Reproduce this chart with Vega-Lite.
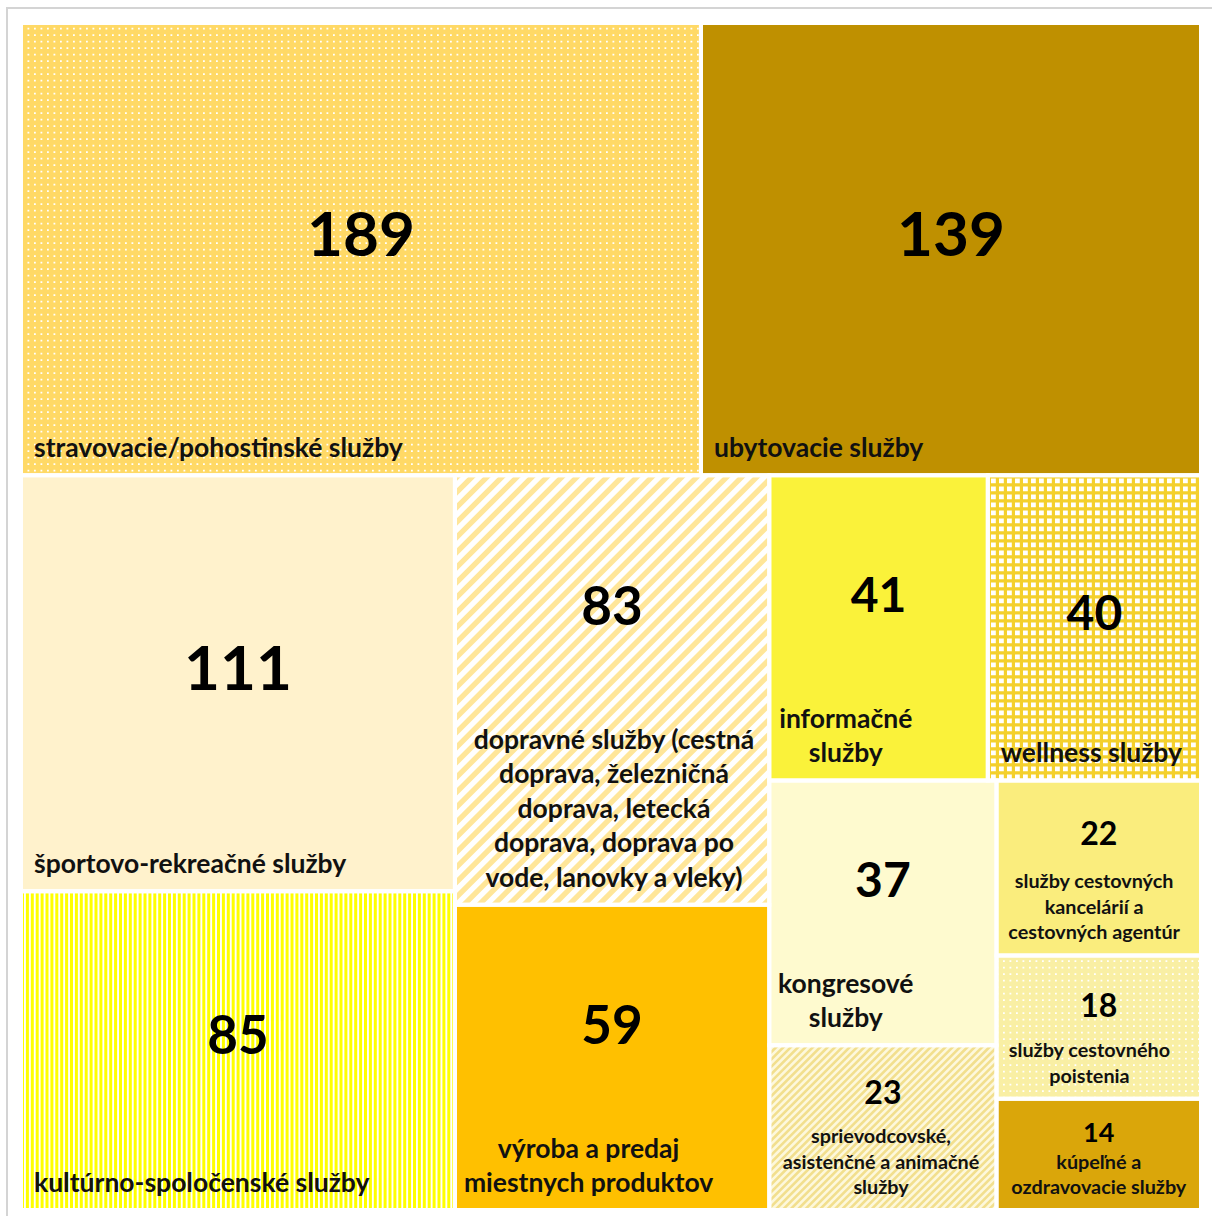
{
  "$schema": "https://vega.github.io/schema/vega-lite/v6.json",
  "width": 1180,
  "height": 1187,
  "autosize": {"type": "none"},
  "padding": {"left": 21, "top": 23, "right": 11, "bottom": 6},
  "background": "white",
  "config": {"view": {"stroke": null}, "font": "Lato"},
  "data": {
    "values": [
      {"label": "stravovacie/pohostinské služby", "value": 189, "l1": "A", "l2": "A1", "l3": "A1", "l4": "A1"},
      {"label": "ubytovacie služby", "value": 139, "l1": "A", "l2": "A2", "l3": "A2", "l4": "A2"},
      {"label": "športovo-rekreačné služby", "value": 111, "l1": "B", "l2": "B1", "l3": "B1a", "l4": "B1a"},
      {"label": "kultúrno-spoločenské služby", "value": 85, "l1": "B", "l2": "B1", "l3": "B1b", "l4": "B1b"},
      {"label": "dopravné služby (cestná\ndoprava, železničná\ndoprava, letecká\ndoprava, doprava po\nvode, lanovky a vleky)", "value": 83, "l1": "B", "l2": "B2", "l3": "B2a", "l4": "B2a"},
      {"label": "výroba a predaj\nmiestnych produktov", "value": 59, "l1": "B", "l2": "B2", "l3": "B2b", "l4": "B2b"},
      {"label": "informačné\nslužby", "value": 41, "l1": "B", "l2": "B3", "l3": "B3a", "l4": "B3a1"},
      {"label": "wellness služby", "value": 40, "l1": "B", "l2": "B3", "l3": "B3a", "l4": "B3a2"},
      {"label": "kongresové\nslužby", "value": 37, "l1": "B", "l2": "B3", "l3": "B3b", "l4": "B3b1"},
      {"label": "sprievodcovské,\nasistenčné a animačné\nslužby", "value": 23, "l1": "B", "l2": "B3", "l3": "B3b", "l4": "B3b1"},
      {"label": "služby cestovných\nkancelárií a\ncestovných agentúr", "value": 22, "l1": "B", "l2": "B3", "l3": "B3b", "l4": "B3b2"},
      {"label": "služby cestovného\npoistenia", "value": 18, "l1": "B", "l2": "B3", "l3": "B3b", "l4": "B3b2"},
      {"label": "kúpeľné a\nozdravovacie služby", "value": 14, "l1": "B", "l2": "B3", "l3": "B3b", "l4": "B3b2"}
    ]
  },
  "transform": [
    {"joinaggregate": [{"op": "sum", "field": "value", "as": "t0"}]},
    {"joinaggregate": [{"op": "sum", "field": "value", "as": "t1"}], "groupby": ["l1"]},
    {"joinaggregate": [{"op": "sum", "field": "value", "as": "t2"}], "groupby": ["l2"]},
    {"joinaggregate": [{"op": "sum", "field": "value", "as": "t3"}], "groupby": ["l3"]},
    {"joinaggregate": [{"op": "sum", "field": "value", "as": "t4"}], "groupby": ["l4"]},
    {"window": [{"op": "sum", "field": "value", "as": "c1"}], "sort": [{"field": "value", "order": "descending"}], "frame": [null, 0]},
    {"window": [{"op": "sum", "field": "value", "as": "c2"}], "sort": [{"field": "value", "order": "descending"}], "groupby": ["l1"], "frame": [null, 0]},
    {"window": [{"op": "sum", "field": "value", "as": "c3"}], "sort": [{"field": "value", "order": "descending"}], "groupby": ["l2"], "frame": [null, 0]},
    {"window": [{"op": "sum", "field": "value", "as": "c4"}], "sort": [{"field": "value", "order": "descending"}], "groupby": ["l3"], "frame": [null, 0]},
    {"window": [{"op": "sum", "field": "value", "as": "c5"}], "sort": [{"field": "value", "order": "descending"}], "groupby": ["l4"], "frame": [null, 0]},
    {"calculate": "datum.c1-datum.value", "as": "b1"},
    {"calculate": "datum.c2-datum.value", "as": "b2"},
    {"calculate": "datum.c3-datum.value", "as": "b3"},
    {"calculate": "datum.c4-datum.value", "as": "b4"},
    {"calculate": "datum.c5-datum.value", "as": "b5"},
    {"joinaggregate": [{"op": "min", "field": "b1", "as": "s1"}], "groupby": ["l1"]},
    {"joinaggregate": [{"op": "min", "field": "b2", "as": "s2"}], "groupby": ["l2"]},
    {"joinaggregate": [{"op": "min", "field": "b3", "as": "s3"}], "groupby": ["l3"]},
    {"joinaggregate": [{"op": "min", "field": "b4", "as": "s4"}], "groupby": ["l4"]},
    {"calculate": "datum.s1/datum.t0", "as": "ya0"},
    {"calculate": "(datum.s1+datum.t1)/datum.t0", "as": "ya1"},
    {"calculate": "datum.s2/datum.t1", "as": "xb0"},
    {"calculate": "(datum.s2+datum.t2)/datum.t1", "as": "xb1"},
    {"calculate": "datum.ya0+(datum.ya1-datum.ya0)*datum.s3/datum.t2", "as": "yc0"},
    {"calculate": "datum.ya0+(datum.ya1-datum.ya0)*(datum.s3+datum.t3)/datum.t2", "as": "yc1"},
    {"calculate": "datum.xb0+(datum.xb1-datum.xb0)*datum.s4/datum.t3", "as": "x0"},
    {"calculate": "datum.xb0+(datum.xb1-datum.xb0)*(datum.s4+datum.t4)/datum.t3", "as": "x1"},
    {"calculate": "datum.yc0+(datum.yc1-datum.yc0)*datum.b5/datum.t4", "as": "y0"},
    {"calculate": "datum.yc0+(datum.yc1-datum.yc0)*(datum.b5+datum.value)/datum.t4", "as": "y1"},
    {"calculate": "(datum.x0+datum.x1)/2", "as": "xc"},
    {"calculate": "(datum.y0+datum.y1)/2", "as": "yc"},
    {"calculate": "(datum.x1-datum.x0)*1180", "as": "wpx"},
    {"calculate": "(datum.y1-datum.y0)*1187", "as": "hpx"},
    {"calculate": "(datum.wpx+datum.hpx)/2*1.04", "as": "rpx"},
    {"calculate": "datum.xc-datum.rpx/2/1180", "as": "rx0"},
    {"calculate": "datum.xc+datum.rpx/2/1180", "as": "rx1"},
    {"calculate": "datum.yc-datum.rpx/2/1187", "as": "ry0"},
    {"calculate": "datum.yc+datum.rpx/2/1187", "as": "ry1"},
    {"calculate": "datum.rpx*1.4143", "as": "dw"},
    {"calculate": "split(datum.label,'\\n')", "as": "lines"},
    {"calculate": "length(datum.lines)", "as": "n"},
    {"calculate": "max(length(datum.lines[0]||''),length(datum.lines[1]||''),length(datum.lines[2]||''),length(datum.lines[3]||''),length(datum.lines[4]||''))", "as": "maxc"},
    {"calculate": "datum.value>=30?34.5:25.5", "as": "lh"},
    {"calculate": "datum.value>=30?12.7:9.4", "as": "cw"},
    {"calculate": "datum.x0+13/1180", "as": "lxs"},
    {"calculate": "datum.x0+(13+datum.maxc*datum.cw/2)/1180", "as": "lxc"},
    {"calculate": "datum.y1-(datum.n-1)*datum.lh/1187", "as": "ly"},
    {"calculate": "(datum.y0+2/1187+datum.y1-(12+datum.n*datum.lh)/1187)/2+10/1187", "as": "ny"}
  ],
  "layer": [
    {
      "transform": [
        {"aggregate": [{"op": "min", "field": "x0", "as": "mx0"}, {"op": "max", "field": "x1", "as": "mx1"}, {"op": "min", "field": "y0", "as": "my0"}, {"op": "max", "field": "y1", "as": "my1"}]},
        {"calculate": "datum.mx0-14/1180", "as": "fx0"},
        {"calculate": "datum.mx1+40/1180", "as": "fx1"},
        {"calculate": "datum.my0-15/1187", "as": "fy0"},
        {"calculate": "datum.my1+40/1187", "as": "fy1"}
      ],
      "mark": {"type": "rect", "fill": "transparent", "stroke": "#d4d4d4", "strokeWidth": 2},
      "encoding": {
        "x": {"field": "fx0", "type": "quantitative", "scale": {"domain": [0, 1]}, "axis": null},
        "x2": {"field": "fx1"},
        "y": {"field": "fy0", "type": "quantitative", "scale": {"domain": [0, 1], "reverse": true}, "axis": null},
        "y2": {"field": "fy1"}
      }
    },
    {
      "transform": [{"filter": {"field": "value", "oneOf": [83, 23]}}],
      "mark": {"type": "rect"},
      "encoding": {
        "x": {"field": "x0", "type": "quantitative", "scale": {"domain": [0, 1]}, "axis": null},
        "x2": {"field": "x1"},
        "y": {"field": "y0", "type": "quantitative", "scale": {"domain": [0, 1], "reverse": true}, "axis": null},
        "y2": {"field": "y1"},
        "fill": {"field": "value", "type": "nominal", "legend": null,
          "scale": {"domain": [189, 139, 111, 85, 83, 59, 41, 40, 37, 23, 22, 18, 14],
                    "range": ["#FFD966", "#BF9000", "#FFF2CC", "#FFFFFF", "#FFFFFF", "#FFC000", "#FAF23A", "#FFFFFF", "#FEFACF", "#FDF8DC", "#FAED7D", "#F9EFA4", "#DAA60A"]}}
      }
    },
    {
      "transform": [{"filter": {"field": "value", "equal": 83}}],
      "mark": {"type": "rule", "clip": true, "stroke": "#FFE699", "strokeDash": [5.3, 5.3], "strokeCap": "butt"},
      "encoding": {
        "x": {"field": "rx0", "type": "quantitative", "scale": {"domain": [0, 1]}, "axis": null},
        "x2": {"field": "rx1"},
        "y": {"field": "ry0", "type": "quantitative", "scale": {"domain": [0, 1], "reverse": true}, "axis": null},
        "y2": {"field": "ry1"},
        "strokeWidth": {"field": "dw", "type": "quantitative", "scale": null, "legend": null}
      }
    },
    {
      "transform": [{"filter": {"field": "value", "equal": 23}}],
      "mark": {"type": "rule", "clip": true, "stroke": "#F2DF8E", "strokeDash": [2.6, 2.6], "strokeCap": "butt"},
      "encoding": {
        "x": {"field": "rx0", "type": "quantitative", "scale": {"domain": [0, 1]}, "axis": null},
        "x2": {"field": "rx1"},
        "y": {"field": "ry0", "type": "quantitative", "scale": {"domain": [0, 1], "reverse": true}, "axis": null},
        "y2": {"field": "ry1"},
        "strokeWidth": {"field": "dw", "type": "quantitative", "scale": null, "legend": null}
      }
    },
    {
      "transform": [{"filter": "datum.value !== 83 && datum.value !== 23"}],
      "mark": {"type": "rect"},
      "encoding": {
        "x": {"field": "x0", "type": "quantitative", "scale": {"domain": [0, 1]}, "axis": null},
        "x2": {"field": "x1"},
        "y": {"field": "y0", "type": "quantitative", "scale": {"domain": [0, 1], "reverse": true}, "axis": null},
        "y2": {"field": "y1"},
        "fill": {"field": "value", "type": "nominal", "legend": null}
      }
    },
    {
      "transform": [{"filter": {"field": "value", "equal": 85}}],
      "mark": {"type": "rule", "stroke": "#FFFF00", "strokeDash": [3, 1.9], "strokeCap": "butt"},
      "encoding": {
        "x": {"field": "x0", "type": "quantitative", "scale": {"domain": [0, 1]}, "axis": null},
        "x2": {"field": "x1"},
        "y": {"field": "yc", "type": "quantitative", "scale": {"domain": [0, 1], "reverse": true}, "axis": null},
        "strokeWidth": {"field": "hpx", "type": "quantitative", "scale": null, "legend": null}
      }
    },
    {
      "transform": [{"filter": {"field": "value", "equal": 40}}],
      "mark": {"type": "rule", "stroke": "#F4D02C", "strokeDash": [3.2, 4.8], "strokeCap": "butt"},
      "encoding": {
        "x": {"field": "x0", "type": "quantitative", "scale": {"domain": [0, 1]}, "axis": null},
        "x2": {"field": "x1"},
        "y": {"field": "yc", "type": "quantitative", "scale": {"domain": [0, 1], "reverse": true}, "axis": null},
        "strokeWidth": {"field": "hpx", "type": "quantitative", "scale": null, "legend": null}
      }
    },
    {
      "transform": [{"filter": {"field": "value", "equal": 40}}],
      "mark": {"type": "rule", "stroke": "#F4D02C", "strokeDash": [3.2, 4.8], "strokeCap": "butt"},
      "encoding": {
        "x": {"field": "xc", "type": "quantitative", "scale": {"domain": [0, 1]}, "axis": null},
        "y": {"field": "y0", "type": "quantitative", "scale": {"domain": [0, 1], "reverse": true}, "axis": null},
        "y2": {"field": "y1"},
        "strokeWidth": {"field": "wpx", "type": "quantitative", "scale": null, "legend": null}
      }
    },
    {
      "transform": [{"filter": {"field": "value", "oneOf": [189, 18]}}],
      "mark": {"type": "rule", "stroke": "#FFFFFF", "strokeDash": [1.8, 4.7], "strokeCap": "butt"},
      "encoding": {
        "x": {"field": "x0", "type": "quantitative", "scale": {"domain": [0, 1]}, "axis": null},
        "x2": {"field": "x1"},
        "y": {"field": "yc", "type": "quantitative", "scale": {"domain": [0, 1], "reverse": true}, "axis": null},
        "strokeWidth": {"field": "hpx", "type": "quantitative", "scale": null, "legend": null}
      }
    },
    {
      "transform": [{"filter": {"field": "value", "oneOf": [189, 18]}}],
      "mark": {"type": "rule", "strokeDash": [4.7, 1.8], "strokeCap": "butt"},
      "encoding": {
        "x": {"field": "xc", "type": "quantitative", "scale": {"domain": [0, 1]}, "axis": null},
        "y": {"field": "y0", "type": "quantitative", "scale": {"domain": [0, 1], "reverse": true}, "axis": null},
        "y2": {"field": "y1"},
        "stroke": {"condition": {"test": "datum.value === 189", "value": "#FFD966"}, "value": "#F9EFA4"},
        "strokeWidth": {"field": "wpx", "type": "quantitative", "scale": null, "legend": null}
      }
    },
    {
      "mark": {"type": "rect", "fill": "transparent", "stroke": "#FFFFFF", "strokeWidth": 4},
      "encoding": {
        "x": {"field": "x0", "type": "quantitative", "scale": {"domain": [0, 1]}, "axis": null},
        "x2": {"field": "x1"},
        "y": {"field": "y0", "type": "quantitative", "scale": {"domain": [0, 1], "reverse": true}, "axis": null},
        "y2": {"field": "y1"}
      }
    },
    {
      "mark": {"type": "text", "font": "Lato", "fontWeight": "bold", "color": "#000000", "align": "center", "baseline": "middle"},
      "encoding": {
        "x": {"field": "xc", "type": "quantitative", "scale": {"domain": [0, 1]}, "axis": null},
        "y": {"field": "ny", "type": "quantitative", "scale": {"domain": [0, 1], "reverse": true}, "axis": null},
        "text": {"field": "value", "type": "quantitative"},
        "size": {"field": "value", "type": "quantitative", "legend": null,
          "scale": {"type": "threshold", "domain": [16, 30, 50, 100], "range": [27, 32, 48, 53, 62]}}
      }
    },
    {
      "transform": [{"filter": "datum.n === 1"}],
      "mark": {"type": "text", "font": "Lato", "fontWeight": "bold", "fontSize": 26.5, "color": "#111111", "align": "left", "baseline": "bottom", "dy": -12},
      "encoding": {
        "x": {"field": "lxs", "type": "quantitative", "scale": {"domain": [0, 1]}, "axis": null},
        "y": {"field": "y1", "type": "quantitative", "scale": {"domain": [0, 1], "reverse": true}, "axis": null},
        "text": {"field": "label", "type": "nominal"}
      }
    },
    {
      "transform": [{"filter": "datum.n > 1 && datum.value >= 30"}],
      "mark": {"type": "text", "font": "Lato", "fontWeight": "bold", "fontSize": 26.5, "lineHeight": 34.5, "lineBreak": "\n", "color": "#111111", "align": "center", "baseline": "bottom", "dy": -12},
      "encoding": {
        "x": {"field": "lxc", "type": "quantitative", "scale": {"domain": [0, 1]}, "axis": null},
        "y": {"field": "ly", "type": "quantitative", "scale": {"domain": [0, 1], "reverse": true}, "axis": null},
        "text": {"field": "label", "type": "nominal"}
      }
    },
    {
      "transform": [{"filter": "datum.n > 1 && datum.value < 30"}],
      "mark": {"type": "text", "font": "Lato", "fontWeight": "bold", "fontSize": 19.8, "lineHeight": 25.5, "lineBreak": "\n", "color": "#111111", "align": "center", "baseline": "bottom", "dy": -12},
      "encoding": {
        "x": {"field": "lxc", "type": "quantitative", "scale": {"domain": [0, 1]}, "axis": null},
        "y": {"field": "ly", "type": "quantitative", "scale": {"domain": [0, 1], "reverse": true}, "axis": null},
        "text": {"field": "label", "type": "nominal"}
      }
    }
  ]
}
